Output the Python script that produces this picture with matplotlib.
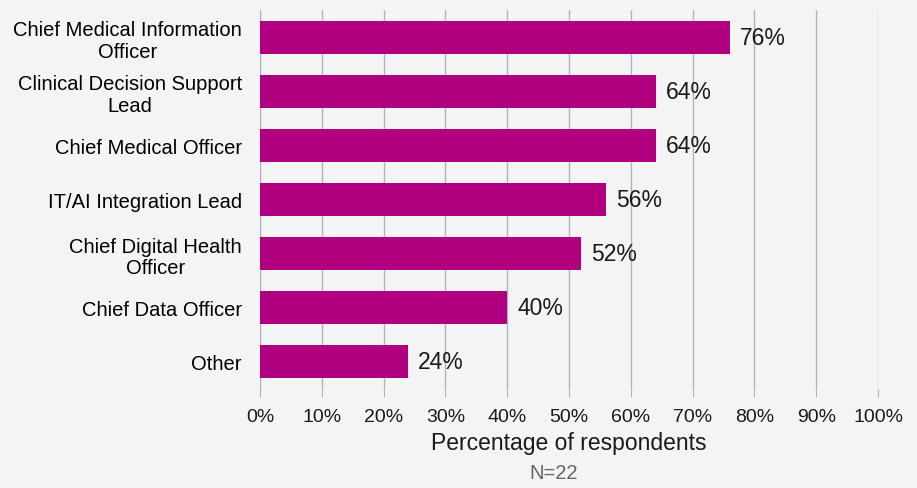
import matplotlib
matplotlib.use("Agg")
import matplotlib.pyplot as plt
from matplotlib.ticker import PercentFormatter

roles = ["Chief Medical Information\nOfficer", "Clinical Decision Support\nLead",
         "Chief Medical Officer", "IT/AI Integration Lead",
         "Chief Digital Health\nOfficer", "Chief Data Officer", "Other"]
shares = [76, 64, 64, 56, 52, 40, 24]
x_ticks = list(range(0, 101, 10))

bg = "#f4f4f4"
bar_color = "#b0007f"
grid_color = "#a9b4c6"

plt.rcParams["font.family"] = ["Liberation Sans", "DejaVu Sans"]

fig = plt.figure(figsize=(9.17, 4.89), dpi=100, facecolor=bg)
ax = fig.add_axes([0.2835, 0.2025, 0.674, 0.775], facecolor=bg)

pos = list(range(len(roles)))
ax.barh(pos, shares, height=0.61, color=bar_color, zorder=3)
for y, v in zip(pos, shares):
    ax.text(v + 1.6, y, f"{v}%", va="center", ha="left", fontsize=16.5, color="#1a1a1a", zorder=4)

ax.set_xlim(0, 100)
ax.set_ylim(len(roles) - 0.5, -0.5)
ax.set_xticks(x_ticks)
ax.xaxis.set_major_formatter(PercentFormatter(decimals=0))
ax.set_yticks(pos)
ax.set_yticklabels(roles, fontsize=14.5, ha="right", multialignment="center", linespacing=1.17)
ax.tick_params(axis="y", length=0, pad=13)
ax.tick_params(axis="x", length=6, color=grid_color, labelsize=14, pad=8, labelcolor="#1a1a1a")
ax.grid(axis="x", color=grid_color, linewidth=1, zorder=0)
for side in ["top", "right", "bottom"]:
    ax.spines[side].set_visible(False)
ax.spines["left"].set_color(grid_color)

ax.set_xlabel("Percentage of respondents", fontsize=16.5, labelpad=4, color="#1a1a1a")
fig.text(0.604, 0.012, "N=22", ha="center", va="bottom", fontsize=14.5, color="#666666")

fig.savefig("out.png", dpi=100, facecolor=bg)
